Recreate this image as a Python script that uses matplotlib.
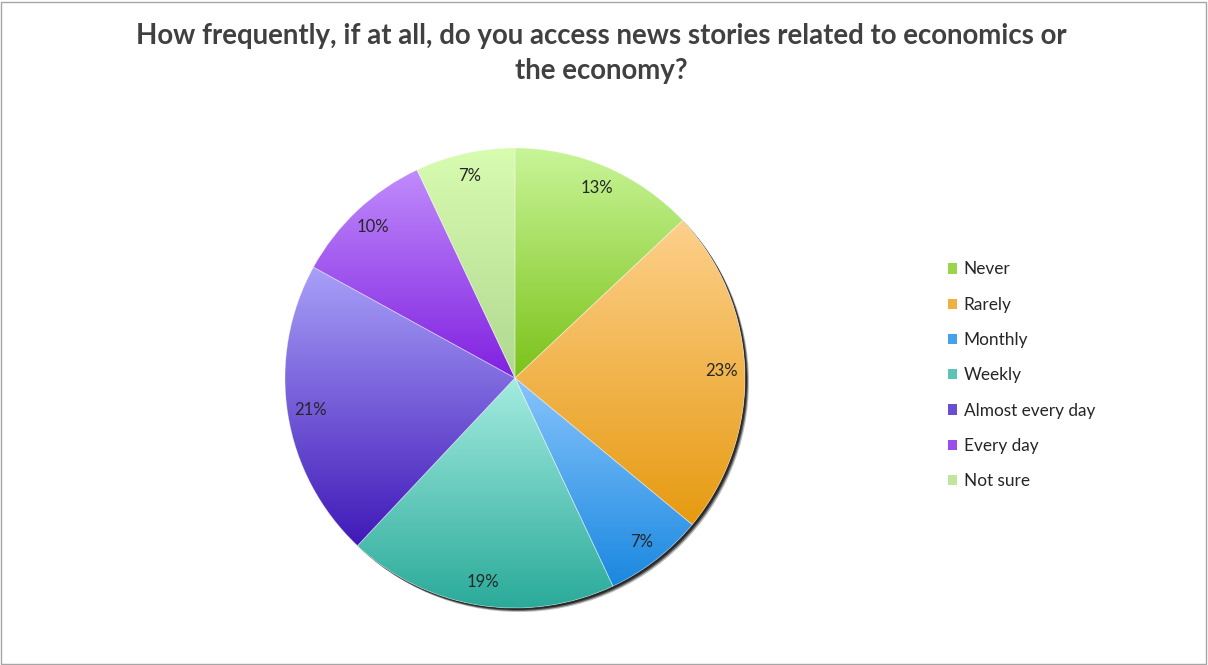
"""Pie chart: how often people access economy news, Excel-style gradient slices."""
import matplotlib
matplotlib.use("Agg")
import matplotlib.pyplot as plt
import numpy as np
from matplotlib.colors import to_rgb
from matplotlib.patches import Circle, Patch, Rectangle

categories = ["Never", "Rarely", "Monthly", "Weekly", "Almost every day", "Every day", "Not sure"]
shares = [13, 23, 7, 19, 21, 10, 7]
top_colors = ["#c8f598", "#fdd08c", "#88c4fc", "#a4ece0", "#a8a0f8", "#c08cfc", "#d8fcb0"]
bottom_colors = ["#7cc21a", "#e69a10", "#1a88e0", "#2aaa9a", "#4018b8", "#8020e0", "#b0d890"]
title = "How frequently, if at all, do you access news stories related to economics or\nthe economy?"

W, H = 1208, 665
plt.rcParams["font.family"] = ["Lato", "DejaVu Sans"]

fig = plt.figure(figsize=(W / 100, H / 100), dpi=100)
ax = fig.add_axes([0, 0, 1, 1])
ax.set_axis_off()

cx, cy, R = 515, H - 378, 230

# soft shadow to the lower right
for off, a in [(4, 0.25), (3, 0.45), (2, 0.6)]:
    ax.add_patch(Circle((cx + off, cy - off), R, color="black", alpha=a, lw=0, zorder=0))
ax.add_patch(Circle((cx, cy), R, color="white", lw=0, zorder=0.5))

wedges, _, autotexts = ax.pie(
    shares, center=(cx, cy), radius=R, startangle=90, counterclock=False,
    autopct="%d%%", pctdistance=0.9, frame=True,
    wedgeprops=dict(facecolor="none", edgecolor=(1, 1, 1, 0.35), linewidth=0.6),
    textprops=dict(fontsize=12, color="#262626"),
)
for t in autotexts:
    t.set_zorder(5)

for w, c0, c1 in zip(wedges, bottom_colors, top_colors):
    ext = w.get_path().get_extents()
    g = np.linspace(0, 1, 256)[:, None, None]
    img = (1 - g) * np.array(to_rgb(c0)) + g * np.array(to_rgb(c1))
    im = ax.imshow(img, extent=(ext.x0, ext.x1, ext.y0, ext.y1), origin="lower",
                   aspect="auto", zorder=1, interpolation="bilinear")
    im.set_clip_path(w)
    w.set_zorder(2)

# legend keys use a mid tone of each slice gradient
mid = [tuple(0.6 * np.array(to_rgb(a)) + 0.4 * np.array(to_rgb(b)))
       for a, b in zip(bottom_colors, top_colors)]
handles = [Patch(facecolor=c, edgecolor="none") for c in mid]
ax.legend(handles, categories, loc="upper left", bbox_to_anchor=(932 / W, 1 - 246 / H),
          frameon=False, fontsize=12.4, labelspacing=1.12, handlelength=0.55,
          handleheight=0.55, handletextpad=0.4, labelcolor="#262626")

ax.text(601, H - 53.5, title, ha="center", va="center", fontsize=19.9, fontweight="bold",
        color="#404040", linespacing=1.42)

ax.set_xlim(0, W)
ax.set_ylim(0, H)
ax.set_aspect("auto")
fig.add_artist(Rectangle((0.5 / W, 1.5 / H), (W - 3) / W, (H - 3) / H, transform=fig.transFigure,
                         fill=False, edgecolor="#a6a6a6", linewidth=1))

fig.savefig("out.png", dpi=100)
